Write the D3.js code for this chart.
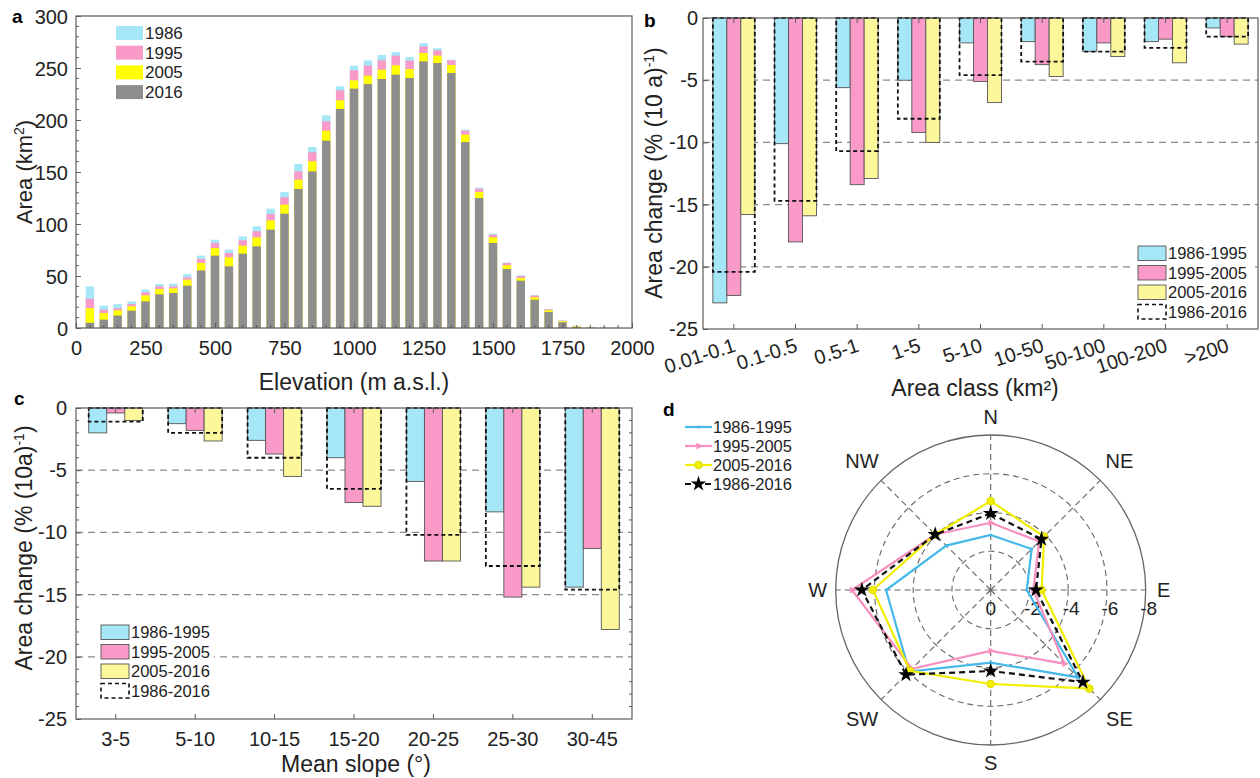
<!DOCTYPE html>
<html>
<head>
<meta charset="utf-8">
<script src="https://cdn.jsdelivr.net/npm/d3@7"></script>
<style>
    body { margin: 0; background: #fff; }
</style>
</head>
<body>
<div id="chart"></div>
<script>
// ---- panel a: glacier area per elevation bin (km2)
const elevations = [50, 100, 150, 200, 250, 300, 350, 400, 450, 500, 550, 600, 650, 700, 750, 800, 850, 900, 950,
    1000, 1050, 1100, 1150, 1200, 1250, 1300, 1350, 1400, 1450, 1500, 1550, 1600, 1650, 1700, 1750, 1800, 1850, 1900, 1950];
const area1986 = [40, 21.5, 23, 25.6, 36.9, 42.3, 42.6, 51.9, 69.6, 84.9, 75.3, 88.1, 97.8, 114.7, 130.8, 157.7, 174, 204.5, 232.4,
    252.2, 257.4, 262.5, 265.4, 260.6, 274, 269, 258, 190.7, 135, 90.7, 63.1, 50.6, 31.7, 18.3, 7.3, 2.2, 0.7, 0.3, 0.1];
const area1995 = [28, 17.6, 19, 23, 34.3, 40, 40, 48.7, 66.3, 81.7, 72.1, 84.3, 93, 109.6, 125.6, 150.6, 168.9, 198.7, 228.5,
    247.8, 252.2, 257.4, 261.9, 257.1, 270.8, 267, 257.4, 189.7, 134, 89.7, 62.5, 50, 31.1, 17.9, 7, 1.9, 0.6, 0.2, 0.1];
const area2005 = [19, 14.4, 17, 20.8, 31.4, 37.5, 38.1, 46.5, 62.5, 76.9, 67.9, 79.2, 87.2, 103.5, 118.6, 142.6, 160.3, 189.7, 218.9,
    238.1, 242.6, 248.4, 252.6, 249, 264.4, 261.9, 252.9, 185.9, 130.8, 87.2, 60.3, 48.1, 29.5, 17, 6.5, 1.6, 0.5, 0.2, 0.05];
const area2016 = [5, 8, 12, 16.7, 25.6, 32.4, 33.7, 40.7, 55.4, 69.6, 59.3, 71.5, 78.5, 94.6, 109.9, 133.7, 150.6, 180.1, 210.6,
    230.1, 234.6, 239.4, 243.6, 240.4, 256.4, 254.8, 245.2, 178.8, 125, 81.7, 56.7, 45.5, 27.2, 15.4, 5.5, 1, 0.3, 0.1, 0];
const yearLabels = ["1986", "1995", "2005", "2016"];

// ---- panel b: area change per area class (% (10 a)-1)
const areaClasses = ["0.01-0.1", "0.1-0.5", "0.5-1", "1-5", "5-10", "10-50", "50-100", "100-200", ">200"];
const b8695 = [-22.9, -10.1, -5.6, -5.0, -2.0, -1.9, -2.7, -1.9, -0.8];
const b9505 = [-22.3, -18.0, -13.4, -9.2, -5.1, -3.75, -2.0, -1.7, -1.5];
const b0516 = [-15.8, -15.9, -12.9, -10.0, -6.8, -4.7, -3.1, -3.6, -2.1];
const b8616 = [-20.4, -14.7, -10.7, -8.1, -4.6, -3.5, -2.7, -2.4, -1.5];

// ---- panel c: area change per slope class
const slopeClasses = ["3-5", "5-10", "10-15", "15-20", "20-25", "25-30", "30-45"];
const c8695 = [-2.0, -1.26, -2.6, -4.0, -5.9, -8.35, -14.4];
const c9505 = [-0.4, -1.8, -3.7, -7.6, -12.3, -15.2, -11.3];
const c0516 = [-1.0, -2.65, -5.5, -7.9, -12.3, -14.4, -17.8];
const c8616 = [-1.1, -2.0, -4.0, -6.5, -10.2, -12.7, -14.6];
const periodLabels = ["1986-1995", "1995-2005", "2005-2016", "1986-2016"];

// ---- panel d: area change per aspect
const aspects = ["N", "NE", "E", "SE", "S", "SW", "W", "NW"];
const d8695 = [-2.84, -2.99, -1.86, -6.38, -3.75, -5.95, -5.4, -3.24];
const d9505 = [-3.47, -3.54, -2.2, -5.38, -3.14, -5.75, -7.16, -4.05];
const d0516 = [-4.59, -3.9, -2.63, -7.2, -4.85, -5.9, -6.08, -4.05];
const d8616 = [-3.95, -3.71, -2.34, -6.73, -4.18, -6.18, -6.65, -4.05];
const ringValues = [0, -2, -4, -6, -8];

const FONT = '"Liberation Sans", Arial, sans-serif';
const AX = "#5c5c5c";
const TXT = "#222";
const TICK = 20;
const TITLE = 23;
const col = {
    blue: "#a6e7f7", pink: "#f99ac8", yellowA: "#ffff00", yellow: "#fcf79a", gray: "#8e8e8e",
    lblue: "#45b8ea", lpink: "#f78fbf", lyellow: "#f2ee00"
};

const svg = d3.select("#chart").append("svg")
    .attr("width", 1260)
    .attr("height", 778)
    .style("font-family", FONT);

function styleAxis(g, size) {
    g.attr("font-family", FONT).attr("font-size", size);
    g.select(".domain").remove();
    g.selectAll(".tick line").attr("stroke", AX);
    g.selectAll(".tick text").attr("fill", TXT);
}

function frame(x0, x1, y0, y1) {
    svg.append("rect")
        .attr("x", x0).attr("y", y0)
        .attr("width", x1 - x0).attr("height", y1 - y0)
        .attr("fill", "none")
        .attr("stroke", AX)
        .attr("stroke-width", 1.2);
}

function panelLetter(t, x, y) {
    svg.append("text").attr("x", x).attr("y", y)
        .attr("font-size", 19).attr("font-weight", "bold").attr("fill", "#000")
        .text(t);
}

function minorTicks(scale, vals, xl, xr) {
    vals.forEach(v => {
        [[xl, xl + 3], [xr, xr - 3]].forEach(([a, b]) => {
            if (a == null) return;
            svg.append("line")
                .attr("x1", a).attr("x2", b)
                .attr("y1", scale(v)).attr("y2", scale(v))
                .attr("stroke", AX);
        });
    });
}

// ================= Panel a =================
const xA = d3.scaleLinear().domain([0, 2000]).range([76, 632]);
const yA = d3.scaleLinear().domain([0, 300]).range([328, 16]);
const bwA = (xA(50) - xA(0)) * 0.6;

[[area1986, col.blue], [area1995, col.pink], [area2005, col.yellowA], [area2016, col.gray]].forEach(([vals, c]) => {
    svg.append("g").selectAll("rect")
        .data(vals)
        .join("rect")
        .attr("x", (d, i) => xA(elevations[i]) - bwA / 2)
        .attr("y", d => yA(d))
        .attr("width", bwA)
        .attr("height", d => yA(0) - yA(d))
        .attr("fill", c);
});

svg.append("g")
    .attr("transform", `translate(0,${yA(0)})`)
    .call(d3.axisBottom(xA).tickValues([0, 250, 500, 750, 1000, 1250, 1500, 1750, 2000])
        .tickFormat(d => String(d)).tickSize(-5).tickSizeOuter(0))
    .call(g => styleAxis(g, TICK))
    .call(g => g.selectAll(".tick text").attr("y", 27).attr("dy", 0));

svg.append("g")
    .attr("transform", `translate(${xA(0)},0)`)
    .call(d3.axisLeft(yA).tickValues([0, 50, 100, 150, 200, 250, 300]).tickSize(-5).tickSizeOuter(0).tickPadding(8))
    .call(g => styleAxis(g, TICK))
    .call(g => g.selectAll(".tick text").attr("dy", "0.35em"));

// minor ticks
minorTicks(yA, d3.range(10, 300, 10).filter(v => v % 50), xA(0), null);
d3.range(50, 2000, 50).filter(v => v % 250).forEach(v => {
    svg.append("line").attr("x1", xA(v)).attr("x2", xA(v))
        .attr("y1", yA(0)).attr("y2", yA(0) - 3).attr("stroke", AX);
});
frame(76, 632, 16, 328);

// legend a
[col.blue, col.pink, col.yellowA, col.gray].forEach((c, i) => {
    const y = 26 + i * 19.7;
    svg.append("rect").attr("x", 116).attr("y", y).attr("width", 27).attr("height", 14).attr("fill", c);
    svg.append("text").attr("x", 145).attr("y", y + 13).attr("font-size", 17).attr("fill", TXT).text(yearLabels[i]);
});

svg.append("text")
    .attr("transform", "translate(32,172) rotate(-90)")
    .attr("text-anchor", "middle").attr("font-size", 22).attr("fill", TXT)
    .call(t => {
        t.append("tspan").text("Area (km");
        t.append("tspan").attr("baseline-shift", "super").attr("font-size", 14).text("2");
        t.append("tspan").text(")");
    });
svg.append("text").attr("x", 354).attr("y", 390)
    .attr("text-anchor", "middle").attr("font-size", TITLE).attr("fill", TXT)
    .text("Elevation (m a.s.l.)");
panelLetter("a", 12, 23);

// ================= grouped bar panels (b, c) =================
function groupedPanel(cats, series, x0, x1, yTop, yBot, opts) {
    const x = d3.scaleBand().domain(cats).range([x0, x1]);
    const y = d3.scaleLinear().domain([-25, 0]).range([yBot, yTop]);
    const grp = x.bandwidth() * 0.68;
    const sub = d3.scaleBand().domain([0, 1, 2]).range([0, grp]);
    const off = (x.bandwidth() - grp) / 2;

    // dashed grid
    [-5, -10, -15, -20].forEach(v => {
        svg.append("line")
            .attr("x1", x0).attr("x2", x1)
            .attr("y1", y(v)).attr("y2", y(v))
            .attr("stroke", "#8a8a8a").attr("stroke-width", 1.3)
            .attr("stroke-dasharray", "7,5");
    });

    [col.blue, col.pink, col.yellow].forEach((c, k) => {
        svg.append("g").selectAll("rect")
            .data(series[k])
            .join("rect")
            .attr("x", (d, i) => x(cats[i]) + off + sub(k))
            .attr("y", y(0))
            .attr("width", sub.bandwidth())
            .attr("height", d => y(d) - y(0))
            .attr("fill", c)
            .attr("stroke", "#555")
            .attr("stroke-width", 0.9);
    });

    // 1986-2016 dashed outline
    svg.append("g").selectAll("rect")
        .data(series[3])
        .join("rect")
        .attr("x", (d, i) => x(cats[i]) + off)
        .attr("y", y(0))
        .attr("width", grp)
        .attr("height", d => y(d) - y(0))
        .attr("fill", "none")
        .attr("stroke", "#111")
        .attr("stroke-width", 1.8)
        .attr("stroke-dasharray", "4,3");

    svg.append("g")
        .attr("transform", `translate(${x0},0)`)
        .call(d3.axisLeft(y).tickValues([-25, -20, -15, -10, -5, 0]).tickFormat(d => String(d))
            .tickSize(-5).tickSizeOuter(0).tickPadding(opts.yPad))
        .call(g => styleAxis(g, TICK));

    const xb = svg.append("g")
        .attr("transform", `translate(0,${yBot})`)
        .call(d3.axisBottom(x).tickSize(-5).tickSizeOuter(0))
        .call(g => styleAxis(g, TICK));
    if (opts.rotate) {
        xb.selectAll(".tick text")
            .attr("y", 0).attr("dy", 0).attr("x", 0)
            .attr("text-anchor", "end")
            .attr("transform", "translate(3,22) rotate(-18)");
    } else {
        xb.selectAll(".tick text").attr("y", 27).attr("dy", 0);
    }
    // mirrored top ticks
    cats.forEach(cname => {
        const cxp = x(cname) + x.bandwidth() / 2;
        svg.append("line").attr("x1", cxp).attr("x2", cxp)
            .attr("y1", yTop).attr("y2", yTop + 5).attr("stroke", AX);
    });
    if (opts.minor) {
        minorTicks(y, d3.range(-24, 0, 1).filter(v => v % 5), x0, x1);
    }
    frame(x0, x1, yTop, yBot);

    // legend
    const lg = opts.legend;
    svg.append("rect").attr("x", lg.x - 3).attr("y", lg.y - 3)
        .attr("width", lg.w).attr("height", 80).attr("fill", "#fff");
    [col.blue, col.pink, col.yellow, null].forEach((c, i) => {
        const ly = lg.y + i * 19.5;
        svg.append("rect").attr("x", lg.x).attr("y", ly).attr("width", 28).attr("height", 14.5)
            .attr("fill", c || "none")
            .attr("stroke", c ? "#555" : "#111")
            .attr("stroke-width", c ? 0.9 : 1.6)
            .attr("stroke-dasharray", c ? null : "4,3");
        svg.append("text").attr("x", lg.x + 30).attr("y", ly + 13)
            .attr("font-size", 16.5).attr("fill", TXT).text(periodLabels[i]);
    });
    return { x, y };
}

// ================= Panel b =================
groupedPanel(areaClasses, [b8695, b9505, b0516, b8616], 703, 1258, 18, 329,
    { yPad: 5, rotate: true, minor: false, legend: { x: 1138, y: 246, w: 116 } });

svg.append("text")
    .attr("transform", "translate(662,173) rotate(-90)")
    .attr("text-anchor", "middle").attr("font-size", TITLE).attr("fill", TXT)
    .call(t => {
        t.append("tspan").text("Area change (% (10 a)");
        t.append("tspan").attr("baseline-shift", "super").attr("font-size", 14).text("-1");
        t.append("tspan").text(")");
    });
svg.append("text").attr("x", 975).attr("y", 396)
    .attr("text-anchor", "middle").attr("font-size", TITLE).attr("fill", TXT)
    .text("Area class (km²)");
panelLetter("b", 644, 27);

// ================= Panel c =================
groupedPanel(slopeClasses, [c8695, c9505, c0516, c8616], 76, 632, 408, 719,
    { yPad: 9, rotate: false, minor: true, legend: { x: 101, y: 625, w: 116 } });

svg.append("text")
    .attr("transform", "translate(32,548) rotate(-90)")
    .attr("text-anchor", "middle").attr("font-size", TITLE).attr("fill", TXT)
    .call(t => {
        t.append("tspan").text("Area change (% (10a)");
        t.append("tspan").attr("baseline-shift", "super").attr("font-size", 14).text("-1");
        t.append("tspan").text(")");
    });
svg.append("text").attr("x", 356).attr("y", 772)
    .attr("text-anchor", "middle").attr("font-size", TITLE).attr("fill", TXT)
    .text("Mean slope (°)");
panelLetter("c", 14, 405);

// ================= Panel d =================
const cx = 990.7, cy = 590;
const rD = d3.scaleLinear().domain([0, -8]).range([0, 155]);
const ang = i => i * Math.PI / 4;
const gD = svg.append("g").attr("transform", `translate(${cx},${cy})`);

// rings and spokes
[-2, -4, -6].forEach(v => {
    gD.append("circle").attr("r", rD(v)).attr("fill", "none")
        .attr("stroke", "#666").attr("stroke-width", 1.1).attr("stroke-dasharray", "6,4");
});
gD.append("circle").attr("r", rD(-8)).attr("fill", "none").attr("stroke", "#666").attr("stroke-width", 1.3);
aspects.forEach((a, i) => {
    gD.append("line")
        .attr("x1", 0).attr("y1", 0)
        .attr("x2", rD(-8) * Math.sin(ang(i))).attr("y2", -rD(-8) * Math.cos(ang(i)))
        .attr("stroke", "#666").attr("stroke-width", 1.1).attr("stroke-dasharray", "6,4");
    const lr = i % 2 ? 182 : 173;
    gD.append("text")
        .attr("x", lr * Math.sin(ang(i))).attr("y", -lr * Math.cos(ang(i)))
        .attr("text-anchor", "middle").attr("dominant-baseline", "central")
        .attr("font-size", 20).attr("fill", TXT)
        .text(a);
});
ringValues.forEach(v => {
    gD.append("text")
        .attr("x", rD(v) + (v === 0 ? 0 : 3)).attr("y", 25)
        .attr("text-anchor", "middle").attr("font-size", 19).attr("fill", TXT)
        .text(String(v));
});

const radial = d3.lineRadial()
    .angle((d, i) => ang(i))
    .radius(d => rD(d))
    .curve(d3.curveLinearClosed);

const starPath = d3.symbol().type(d3.symbolStar).size(75)();
const triPath = d3.symbol().type(d3.symbolTriangle).size(22)();

function marker(g, kind, x, y) {
    if (kind === "dot") {
        g.append("circle").attr("cx", x).attr("cy", y).attr("r", 1.6).attr("fill", col.lblue);
    } else if (kind === "tri") {
        g.append("path").attr("d", triPath).attr("fill", col.lpink)
            .attr("transform", `translate(${x},${y}) rotate(90)`);
    } else if (kind === "circ") {
        g.append("circle").attr("cx", x).attr("cy", y).attr("r", 3.8)
            .attr("fill", col.lyellow).attr("stroke", "#e0dc00");
    } else {
        g.append("path").attr("d", starPath).attr("fill", "#000")
            .attr("transform", `translate(${x},${y})`);
    }
}

const radarSeries = [
    { vals: d8695, stroke: col.lblue, dash: null, mk: "dot" },
    { vals: d9505, stroke: col.lpink, dash: null, mk: "tri" },
    { vals: d0516, stroke: col.lyellow, dash: null, mk: "circ" },
    { vals: d8616, stroke: "#111", dash: "6,4", mk: "star" }
];

radarSeries.forEach(s => {
    gD.append("path")
        .attr("d", radial(s.vals))
        .attr("fill", "none")
        .attr("stroke", s.stroke)
        .attr("stroke-width", 2.2)
        .attr("stroke-dasharray", s.dash);
    s.vals.forEach((v, i) => marker(gD, s.mk, rD(v) * Math.sin(ang(i)), -rD(v) * Math.cos(ang(i))));
});

// legend d
radarSeries.forEach((s, i) => {
    const ly = 427 + i * 19;
    svg.append("line").attr("x1", 685).attr("x2", 712).attr("y1", ly).attr("y2", ly)
        .attr("stroke", s.stroke).attr("stroke-width", 2.2).attr("stroke-dasharray", s.dash);
    marker(svg, s.mk, 698.5, ly);
    svg.append("text").attr("x", 713).attr("y", ly).attr("dominant-baseline", "central")
        .attr("font-size", 16.5).attr("fill", TXT).text(periodLabels[i]);
});
panelLetter("d", 663, 416);
</script>
</body>
</html>
